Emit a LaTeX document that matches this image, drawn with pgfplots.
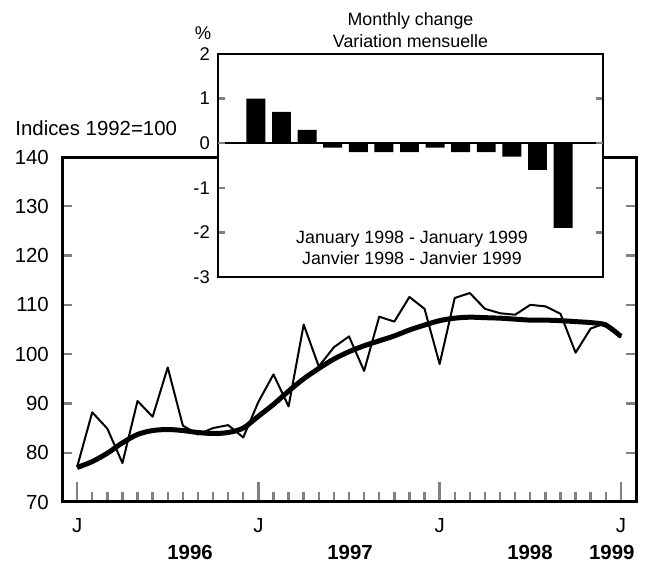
\documentclass[border=0pt]{standalone}
\usepackage{fontspec}
\setmainfont{Liberation Sans}
\usepackage{pgfplots}
\pgfplotsset{compat=1.18}
\begin{document}
\fontsize{10.2}{11.5}\selectfont
\begin{tikzpicture}
\path[use as bounding box] (0pt,0pt) rectangle (326pt,280.5pt);
\begin{axis}[
  at={(31pt,29.5pt)}, anchor=south west,
  scale only axis, width=287pt, height=172.5pt,
  xmin=-1, xmax=37, ymin=70, ymax=140,
  axis line style={line width=1.5pt},
  /pgf/number format/assume math mode=true,
  ytick={70,80,...,140},
  xtick={0,12,24,36}, xticklabels={J,J,J,J},
  minor xtick={1,...,35},
  tick align=inside,
  xtick pos=bottom,
  yticklabel pos=left,
  major tick length=5pt, minor tick length=5pt,
  xtick style={line width=1.2pt, /pgfplots/major tick length=10pt},
  ytick style={line width=1.2pt},
  minor tick style={line width=1.2pt},
  xticklabel style={yshift=-4.5pt},
  yticklabel style={xshift=-3pt},
  clip=false,
]
\addplot[black, line width=1pt, line join=round] coordinates {
(0,77.1) (1,88.2) (2,84.9) (3,77.9) (4,90.5) (5,87.3) (6,97.3) (7,85.5) (8,83.7) (9,85.0) (10,85.6) (11,83.1)
(12,90.3) (13,95.9) (14,89.4) (15,106.0) (16,97.5) (17,101.4) (18,103.6) (19,96.6) (20,107.6) (21,106.6) (22,111.6) (23,109.2)
(24,98.0) (25,111.4) (26,112.4) (27,109.2) (28,108.3) (29,108.0) (30,110.0) (31,109.7) (32,108.2) (33,100.3) (34,105.2) (35,106.3) (36,103.4)
};
\addplot[black, line width=2.5pt, line join=round, smooth] coordinates {
(0,77.0) (1,78.2) (2,79.9) (3,82.0) (4,83.7) (5,84.5) (6,84.7) (7,84.5) (8,84.1) (9,83.9) (10,84.1) (11,85.0)
(12,87.4) (13,89.8) (14,92.5) (15,95.0) (16,97.1) (17,99.0) (18,100.5) (19,101.7) (20,102.7) (21,103.7) (22,104.9) (23,105.9)
(24,106.8) (25,107.3) (26,107.5) (27,107.4) (28,107.3) (29,107.1) (30,106.9) (31,106.9) (32,106.8) (33,106.6) (34,106.4) (35,105.9) (36,103.6)
};
\node[font=\bfseries] at (axis cs:7.48,70) [yshift=-25pt] {1996};
\node[font=\bfseries] at (axis cs:18.07,70) [yshift=-25pt] {1997};
\node[font=\bfseries] at (axis cs:29.98,70) [yshift=-25pt] {1998};
\node[font=\bfseries] at (axis cs:35.4,70) [yshift=-25pt] {1999};
\end{axis}
\node[anchor=west, inner sep=0] at (7.5pt,216.5pt) {Indices 1992=100};
\begin{axis}[
  at={(109pt,142pt)}, anchor=south west,
  scale only axis, width=192.5pt, height=111.5pt,
  xmin=-0.48, xmax=14.56, ymin=-3, ymax=2,
  axis background/.style={fill=white},
  axis line style={line width=1.3pt},
  /pgf/number format/assume math mode=true,
  xtick=\empty, ytick={-3,-2,...,2},
  yticklabel pos=left, tick align=inside,
  major tick length=3.5pt,
  ytick style={line width=1.2pt},
  yticklabel style={xshift=-0.5pt, font=\fontsize{9.2}{10.8}\selectfont},
  extra y ticks={0}, extra y tick labels={},
  extra y tick style={grid=major, major grid style={black, line width=1.3pt}},
  title={Monthly change\\Variation mensuelle},
  title style={align=center, font=\fontsize{8.9}{10.8}\selectfont, yshift=-6.3pt},
]
\addplot[ybar, bar width=0.74, fill=black, draw=none] coordinates {
(1,1.0) (2,0.7) (3,0.3) (4,-0.1) (5,-0.2) (6,-0.2) (7,-0.2) (8,-0.1) (9,-0.2) (10,-0.2) (11,-0.3) (12,-0.6) (13,-1.9)
};
\end{axis}
\node[font=\fontsize{9.2}{10.8}\selectfont] at (101.5pt,264pt) {\%};
\node[align=center, font=\fontsize{8.9}{10.8}\selectfont] at (206pt,156.5pt) {January 1998 - January 1999\\Janvier 1998 - Janvier 1999};
\end{tikzpicture}
\end{document}
